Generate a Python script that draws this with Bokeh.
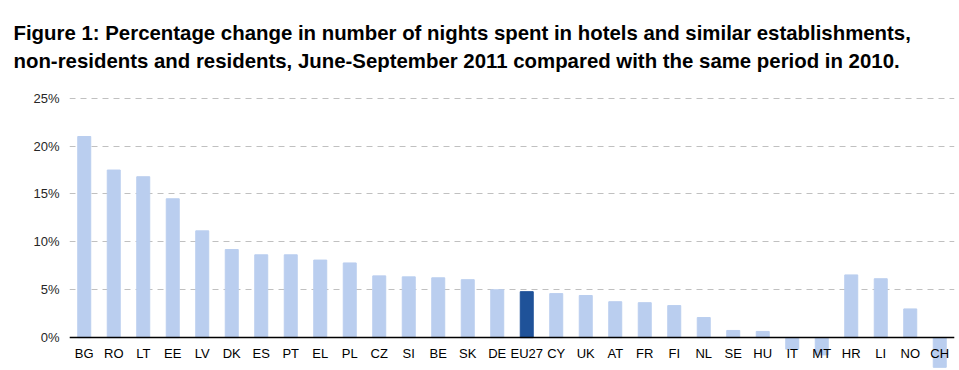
from bokeh.plotting import figure
from bokeh.models import FactorRange, Range1d, FixedTicker, PrintfTickFormatter, ColumnDataSource
from bokeh.embed import file_html
from bokeh.resources import INLINE

countries = ["BG", "RO", "LT", "EE", "LV", "DK", "ES", "PT", "EL", "PL", "CZ", "SI", "BE", "SK", "DE",
             "EU27", "CY", "UK", "AT", "FR", "FI", "NL", "SE", "HU", "IT", "MT", "HR", "LI", "NO", "CH"]
change_pct = [21.0, 17.5, 16.8, 14.5, 11.15, 9.2, 8.65, 8.65, 8.1, 7.8, 6.45, 6.35, 6.25, 6.05, 5.0,
              4.8, 4.6, 4.4, 3.75, 3.65, 3.35, 2.1, 0.75, 0.65, -1.2, -1.8, 6.55, 6.15, 3.0, -3.1]
y_ticks = [0, 5, 10, 15, 20, 25]
title_line1 = "Figure 1: Percentage change in number of nights spent in hotels and similar establishments,"
title_line2 = "non-residents and residents, June-September 2011 compared with the same period in 2010."

LIGHT = "#BACEEF"
DARK = "#1F5299"
colors = [DARK if c == "EU27" else LIGHT for c in countries]
src = ColumnDataSource(dict(x=countries, top=change_pct, color=colors))

p = figure(width=959, height=370, output_backend="svg", toolbar_location=None,
           x_range=FactorRange(*countries, range_padding=0),
           y_range=Range1d(-3.43, 25.70),
           min_border_left=69, min_border_right=5, min_border_bottom=0, min_border_top=90)

p.title.text = title_line1 + "\n" + title_line2
p.title.text_font = "Liberation Sans"
p.title.text_font_size = "20.4px"
p.title.text_font_style = "bold"
p.title.text_color = "#000000"
p.title.text_line_height = 1.28
p.title.offset = -56
p.title.standoff = 39

p.vbar(x="x", top="top", width=0.44, color="color", source=src)

p.outline_line_color = None
p.xgrid.grid_line_color = None
p.ygrid.ticker = FixedTicker(ticks=y_ticks)
p.ygrid.grid_line_color = "#C0C0C0"
p.ygrid.grid_line_dash = "6 5"
p.ygrid.grid_line_width = 1

p.yaxis.ticker = FixedTicker(ticks=y_ticks)
p.yaxis.formatter = PrintfTickFormatter(format="%d%%")
p.yaxis.axis_line_color = None
p.yaxis.major_tick_line_color = None
p.yaxis.minor_tick_line_color = None
p.yaxis.major_tick_out = 0
p.yaxis.minor_tick_out = 0
p.yaxis.major_label_standoff = 10
p.yaxis.major_label_text_font = "Liberation Sans"
p.yaxis.major_label_text_font_size = "13px"
p.yaxis.major_label_text_color = "#262626"

p.xaxis.fixed_location = 0
p.xaxis.axis_line_color = "#000000"
p.xaxis.axis_line_width = 1.5
p.xaxis.major_tick_line_color = None
p.xaxis.minor_tick_line_color = None
p.xaxis.major_tick_out = 0
p.xaxis.minor_tick_out = 0
p.xaxis.major_label_standoff = 8
p.xaxis.major_label_text_font = "Liberation Sans"
p.xaxis.major_label_text_font_size = "13px"
p.xaxis.major_label_text_color = "#000000"

open("out.html", "w").write(file_html(p, INLINE))
